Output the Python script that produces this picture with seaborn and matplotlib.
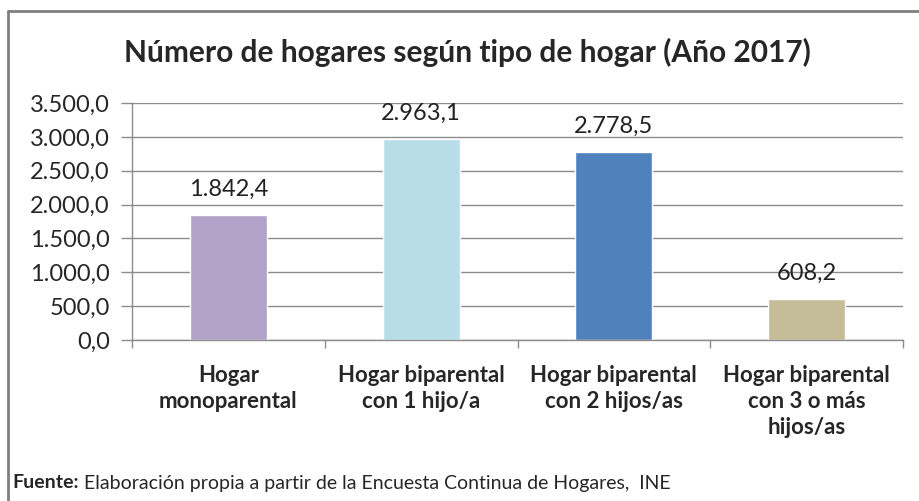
import seaborn as sns
import matplotlib.pyplot as plt
import pandas as pd
from matplotlib.lines import Line2D
from matplotlib.ticker import FuncFormatter, FixedLocator

categorias = ["Hogar\nmonoparental",
              "Hogar biparental\ncon 1 hijo/a",
              "Hogar biparental\ncon 2 hijos/as",
              "Hogar biparental\ncon 3 o más\nhijos/as"]
hogares = [1842.4, 2963.1, 2778.5, 608.2]
colores = ["#B3A2C7", "#B7DEE8", "#4F81BD", "#C4BD97"]
y_ticks = [0, 500, 1000, 1500, 2000, 2500, 3000, 3500]

def es_num(v, pos=None):
    # formato español: 1.842,4
    s = f"{v:,.1f}"
    return s.replace(",", "X").replace(".", ",").replace("X", ".")

sns.set_style("white")
plt.rcParams['font.family'] = ['Lato', 'DejaVu Sans']

df = pd.DataFrame({"tipo": categorias, "hogares": hogares})

fig = plt.figure(figsize=(9.2, 5.01), dpi=100)
ax = fig.add_axes([132/920, 1-340/501, (903-132)/920, (340-103)/501])

sns.barplot(data=df, x="tipo", y="hogares", hue="tipo", palette=colores,
            width=0.4, legend=False, ax=ax, saturation=1)

ax.set_ylim(0, 3500)
ax.set_xlim(-0.5, 3.5)
ax.yaxis.set_major_locator(FixedLocator(y_ticks))
ax.yaxis.set_major_formatter(FuncFormatter(es_num))
ax.grid(axis="y", color="#8c8c8c", linewidth=1)
ax.set_axisbelow(True)
ax.set_xlabel("")
ax.set_ylabel("")

for s in ["top", "right"]:
    ax.spines[s].set_visible(False)
for s in ["left", "bottom"]:
    ax.spines[s].set_color("#8c8c8c")
    ax.spines[s].set_linewidth(1)

ax.tick_params(axis="y", length=8, width=1, color="#8c8c8c", labelsize=17,
               pad=8, left=True, direction="out")
ax.set_xticks(range(len(categorias)))
ax.set_xticklabels(categorias, fontweight="bold", fontsize=16, linespacing=1.3)
ax.tick_params(axis="x", length=0, pad=18)
ax.set_xticks([-0.5, 0.5, 1.5, 2.5, 3.5], minor=True)
ax.tick_params(axis="x", which="minor", length=6, width=1, color="#8c8c8c",
               direction="out", bottom=True)

for i, v in enumerate(hogares):
    ax.annotate(es_num(v), (i, v), xytext=(0, 11), textcoords="offset points",
                ha="center", va="bottom", fontsize=17, color="#222222")

fig.text(467/920, 1-52/501, "Número de hogares según tipo de hogar (Año 2017)",
         ha="center", va="center", fontsize=21.5, fontweight="bold")

fig.text(12/920, 1-483/501, "Fuente:", ha="left", va="center", fontsize=14,
         fontweight="bold")
fig.text(84/920, 1-483/501,
         "Elaboración propia a partir de la Encuesta Continua de Hogares,  INE",
         ha="left", va="center", fontsize=14)

# marco del gráfico (sólo se ven borde superior e izquierdo)
fig.add_artist(Line2D([8/920, 1], [1-11/501, 1-11/501], transform=fig.transFigure,
                      color="#7f7f7f", linewidth=2))
fig.add_artist(Line2D([8/920, 8/920], [0, 1-11/501], transform=fig.transFigure,
                      color="#7f7f7f", linewidth=2))

plt.savefig("out.png", dpi=100)
